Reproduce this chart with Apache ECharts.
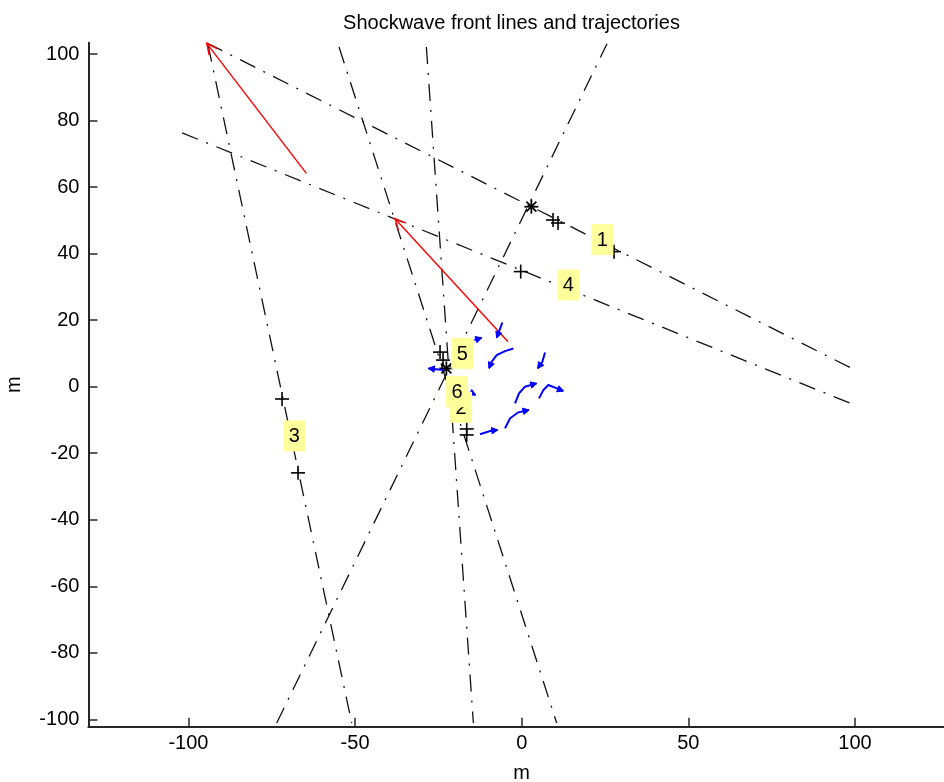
<!DOCTYPE html>
<html><head><meta charset="utf-8">
<script src="https://cdn.jsdelivr.net/npm/echarts@6/dist/echarts.min.js"></script>
<style>html,body{margin:0;padding:0;background:#fff}#c{width:944px;height:782px}</style>
</head><body><div id="c"></div>
<script>
// ---- data (metres) ----
const xTicks = [-100, -50, 0, 50, 100];
const yTicks = [-100, -80, -60, -40, -20, 0, 20, 40, 60, 80, 100];
const front1 = [[-94.4, 103.3], [100.0, 5.0]];
const front4 = [[-101.9, 76.3], [100.6, -5.8]];
const front3 = [[-94.1, 102.7], [-51.0, -101.1]];
const front5 = [[-73.5, -101.1], [25.6, 103.1]];
const front6 = [[-54.8, 102.1], [10.5, -101.1]];
const front2 = [[-28.6, 102.1], [-14.5, -101.1]];
const crossPts = [[9.4, 50.1], [10.9, 49.2], [27.7, 40.6], [-0.3, 34.6], [-71.9, -3.7], [-67.1, -25.9],
                  [-24.5, 10.4], [-23.6, 8.0], [-16.5, -12.7], [-16.5, -14.5]];
const starPts = [[2.9, 54.1], [-22.6, 5.5]];
const labelNames = ['1', '4', '3', '5', '2', '6'];
const labelPts = [[24.2, 44.2], [14.0, 30.6], [-68.2, -14.8], [-17.8, 10.0], [-18.2, -6.2], [-19.4, -1.5]];
const redArrows = [[[-64.6, 64.1], [-94.5, 103.2]], [[-4.1, 13.5], [-38.0, 50.5]]];
const blueTracks = [
  [[-14.2, 14.0], [-12.0, 14.7]],
  [[-5.8, 19.3], [-7.0, 16.0], [-7.5, 14.7]],
  [[-2.5, 11.5], [-5.0, 10.7], [-7.5, 9.5], [-9.0, 7.5], [-9.8, 5.5]],
  [[7.0, 10.3], [6.2, 7.5], [4.8, 5.5]],
  [[-2.0, -5.0], [-0.8, -2.0], [1.0, 0.0], [4.5, 1.0]],
  [[5.2, -3.5], [6.5, -1.0], [8.0, 0.5], [10.0, -0.3], [12.5, -1.3]],
  [[-5.0, -12.5], [-3.5, -9.5], [-1.0, -7.7], [2.2, -7.0]],
  [[-12.5, -14.3], [-9.5, -13.3], [-7.2, -13.0]],
  [[-14.8, -2.0], [-13.8, -2.5]],
  [[-23.5, 5.0], [-28.0, 5.5]]
];
const fronts = [front1, front4, front3, front5, front6, front2];

const F = "'Liberation Sans', Arial, Helvetica, sans-serif";
const chart = echarts.init(document.getElementById('c'), null, {renderer: 'canvas'});

function crossItem(params, api) {
  const p = api.coord([api.value(0), api.value(1)]);
  const s = 7, st = {stroke: '#000', lineWidth: 1.6};
  const ch = [
    {type: 'line', shape: {x1: p[0] - s, y1: p[1], x2: p[0] + s, y2: p[1]}, style: st},
    {type: 'line', shape: {x1: p[0], y1: p[1] - s, x2: p[0], y2: p[1] + s}, style: st}
  ];
  return {type: 'group', children: ch};
}
function starItem(params, api) {
  const p = api.coord([api.value(0), api.value(1)]);
  const s = 7, d = 5, st = {stroke: '#000', lineWidth: 1.8};
  return {type: 'group', children: [
    {type: 'line', shape: {x1: p[0] - s, y1: p[1], x2: p[0] + s, y2: p[1]}, style: st},
    {type: 'line', shape: {x1: p[0], y1: p[1] - s, x2: p[0], y2: p[1] + s}, style: st},
    {type: 'line', shape: {x1: p[0] - d, y1: p[1] - d, x2: p[0] + d, y2: p[1] + d}, style: st},
    {type: 'line', shape: {x1: p[0] - d, y1: p[1] + d, x2: p[0] + d, y2: p[1] - d}, style: st}
  ]};
}
function redItem(params, api) {
  const a = redArrows[api.value(2)];
  const p0 = api.coord(a[0]), p1 = api.coord(a[1]);
  const ang = Math.atan2(p1[1] - p0[1], p1[0] - p0[0]);
  const L = 12, h = 0.45, st = {stroke: '#ff0000', lineWidth: 1.4};
  const e1 = [p1[0] - L * Math.cos(ang - h), p1[1] - L * Math.sin(ang - h)];
  const e2 = [p1[0] - L * Math.cos(ang + h), p1[1] - L * Math.sin(ang + h)];
  return {type: 'group', children: [
    {type: 'line', shape: {x1: p0[0], y1: p0[1], x2: p1[0], y2: p1[1]}, style: st},
    {type: 'polyline', shape: {points: [e1, p1, e2]}, style: Object.assign({fill: null}, st)}
  ]};
}
function blueItem(params, api) {
  const t = blueTracks[api.value(2)];
  const pts = t.map(q => api.coord(q));
  const n = pts.length, p1 = pts[n - 1], p0 = pts[n - 2];
  const ang = Math.atan2(p1[1] - p0[1], p1[0] - p0[0]);
  const L = 6, W = 3.2;
  const b = [p1[0] - L * Math.cos(ang), p1[1] - L * Math.sin(ang)];
  const head = [p1, [b[0] + W * Math.sin(ang), b[1] - W * Math.cos(ang)], [b[0] - W * Math.sin(ang), b[1] + W * Math.cos(ang)]];
  return {type: 'group', children: [
    {type: 'polyline', shape: {points: pts}, style: {stroke: '#0000ff', lineWidth: 2, fill: null}},
    {type: 'polygon', shape: {points: head}, style: {fill: '#0000ff', stroke: '#0000ff', lineWidth: 1}}
  ]};
}
function labelItem(params, api) {
  const p = api.coord([api.value(0), api.value(1)]);
  const w = 22, h = 31;
  return {type: 'group', children: [
    {type: 'rect', shape: {x: p[0] - w / 2, y: p[1] - h / 2, width: w, height: h}, style: {fill: '#ffff9c'}},
    {type: 'text', x: p[0], y: p[1] + 1, style: {text: labelNames[params.dataIndex], fill: '#000', font: '20px ' + F, align: 'center', verticalAlign: 'middle'}}
  ]};
}

const series = fronts.map(f => ({
  type: 'line', data: f, showSymbol: false, symbol: 'none', z: 2, silent: true,
  lineStyle: {color: '#111', width: 1.3, type: [17, 9, 2, 9]}
}));
series.push({type: 'custom', renderItem: crossItem, data: crossPts, z: 3, encode: {x: 0, y: 1}});
series.push({type: 'custom', renderItem: starItem, data: starPts, z: 3, encode: {x: 0, y: 1}});
series.push({type: 'custom', renderItem: redItem, z: 4, encode: {x: 0, y: 1},
  data: redArrows.map((a, i) => [a[1][0], a[1][1], i])});
series.push({type: 'custom', renderItem: blueItem, z: 4, encode: {x: 0, y: 1},
  data: blueTracks.map((t, i) => [t[t.length - 1][0], t[t.length - 1][1], i])});
series.push({type: 'custom', renderItem: labelItem, data: labelPts, z: 6, encode: {x: 0, y: 1}});

chart.setOption({
  animation: false,
  backgroundColor: '#fff',
  title: {text: 'Shockwave front lines and trajectories', left: 506.5, top: 8, textAlign: 'center',
    textStyle: {fontSize: 20, fontWeight: 'normal', color: '#000', fontFamily: F}},
  grid: {left: 88.4, right: -11, top: 42.7, bottom: 55.3, containLabel: false, outerBoundsMode: 'none'},
  xAxis: {
    type: 'value', min: -130, max: 130,
    axisLine: {show: true, onZero: false, lineStyle: {color: '#262626', width: 2}},
    axisTick: {show: true, inside: true, length: 9, customValues: xTicks, lineStyle: {color: '#262626', width: 1.5}},
    axisLabel: {customValues: xTicks, color: '#000', fontSize: 20, fontFamily: F, margin: 7},
    splitLine: {show: false},
    name: 'm', nameLocation: 'middle', nameGap: 37,
    nameTextStyle: {color: '#000', fontSize: 20, fontFamily: F}
  },
  yAxis: {
    type: 'value', min: -102.2, max: 103.4,
    axisLine: {show: true, onZero: false, lineStyle: {color: '#262626', width: 2}},
    axisTick: {show: true, inside: true, length: 9, customValues: yTicks, lineStyle: {color: '#262626', width: 1.5}},
    axisLabel: {customValues: yTicks, color: '#000', fontSize: 20, fontFamily: F, margin: 9},
    splitLine: {show: false},
    name: 'm', nameLocation: 'middle', nameGap: 64, nameRotate: 90,
    nameTextStyle: {color: '#000', fontSize: 20, fontFamily: F}
  },
  series: series
});
</script>
</body></html>
